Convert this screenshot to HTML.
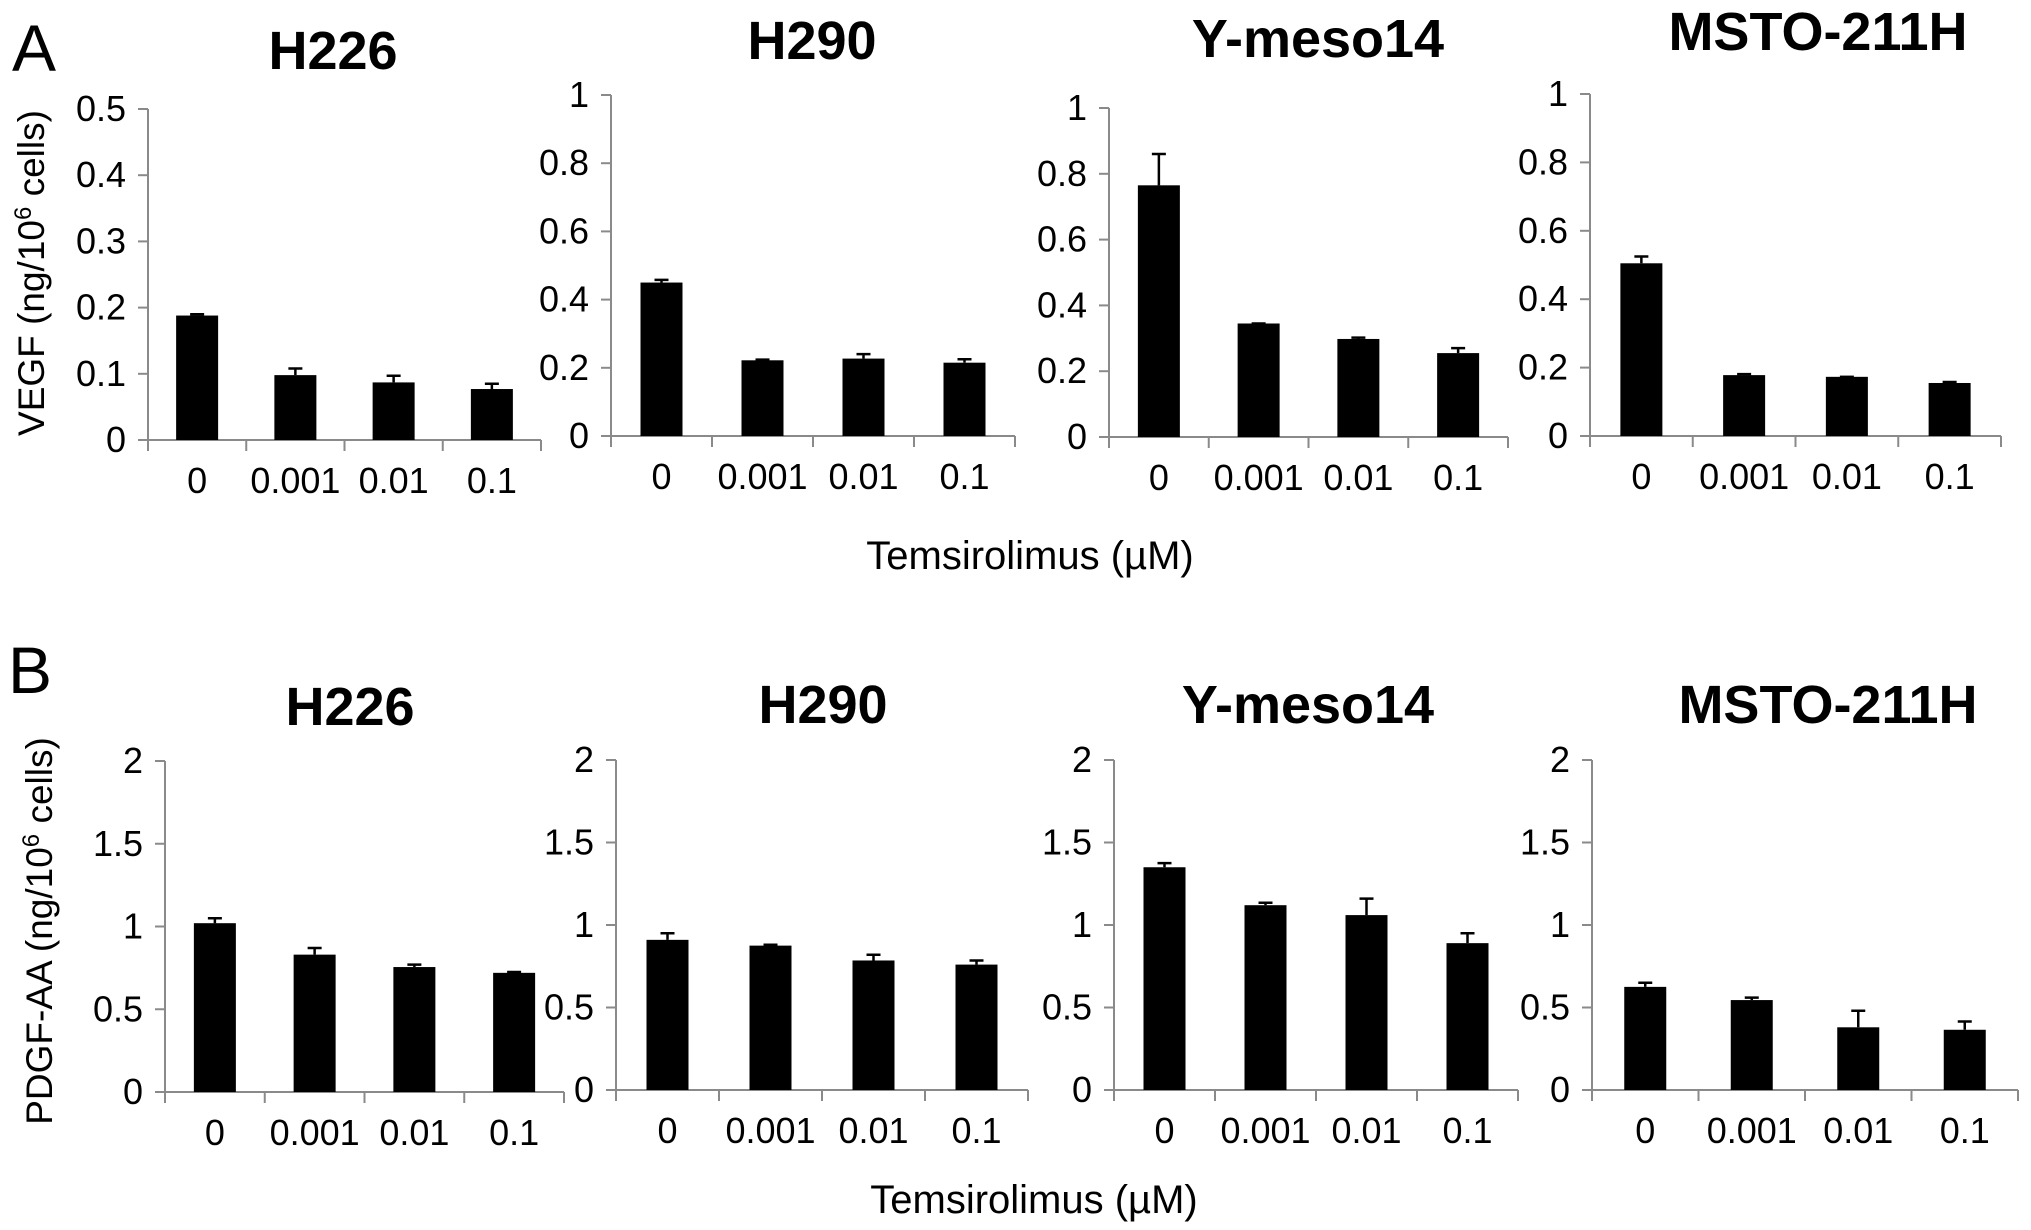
<!DOCTYPE html>
<html><head><meta charset="utf-8">
<style>
html,body{margin:0;padding:0;background:#fff;}
svg{display:block;font-family:"Liberation Sans",Arial,sans-serif;}
</style></head>
<body>
<svg id="fig" width="2031" height="1230" viewBox="0 0 2031 1230" xmlns="http://www.w3.org/2000/svg">
<rect width="2031" height="1230" fill="#fff"/>
<text x="12" y="71" font-size="66">A</text>
<text x="8" y="693" font-size="66">B</text>
<text transform="translate(44,273) rotate(-90)" text-anchor="middle" font-size="37">VEGF (ng/10<tspan dy="-13" font-size="24">6</tspan><tspan dy="13"> cells)</tspan></text>
<text transform="translate(52,931) rotate(-90)" text-anchor="middle" font-size="37">PDGF-AA (ng/10<tspan dy="-13" font-size="24">6</tspan><tspan dy="13"> cells)</tspan></text>
<text x="1030" y="569" text-anchor="middle" font-size="40">Temsirolimus (µM)</text>
<text x="1034" y="1213" text-anchor="middle" font-size="40">Temsirolimus (µM)</text>
<g id="charts"></g>
</svg>
<script>
// ---- data ----
const categories = ["0", "0.001", "0.01", "0.1"];
const cellLines = ["H226", "H290", "Y-meso14", "MSTO-211H"];
const vegfH226 = [0.188, 0.098, 0.087, 0.077];
const vegfH226Err = [0.002, 0.010, 0.010, 0.008];
const vegfH290 = [0.450, 0.222, 0.227, 0.215];
const vegfH290Err = [0.008, 0.002, 0.013, 0.010];
const vegfYmeso = [0.765, 0.345, 0.298, 0.255];
const vegfYmesoErr = [0.095, 0.000, 0.004, 0.015];
const vegfMsto = [0.505, 0.178, 0.173, 0.155];
const vegfMstoErr = [0.020, 0.003, 0.000, 0.003];
const pdgfH226 = [1.02, 0.83, 0.755, 0.72];
const pdgfH226Err = [0.03, 0.04, 0.015, 0.005];
const pdgfH290 = [0.91, 0.875, 0.785, 0.76];
const pdgfH290Err = [0.04, 0.005, 0.035, 0.025];
const pdgfYmeso = [1.35, 1.12, 1.06, 0.89];
const pdgfYmesoErr = [0.025, 0.015, 0.10, 0.06];
const pdgfMsto = [0.625, 0.545, 0.38, 0.365];
const pdgfMstoErr = [0.025, 0.015, 0.10, 0.05];
const ticksVegfH226 = [0, 0.1, 0.2, 0.3, 0.4, 0.5];
const ticksVegf = [0, 0.2, 0.4, 0.6, 0.8, 1];
const ticksPdgf = [0, 0.5, 1, 1.5, 2];

// ---- layout (pixels) ----
const layout = [
 {key:"vegf-h226", title:0, v:vegfH226, e:vegfH226Err, t:ticksVegfH226, x0:148, x1:541, y0:440, y1:109, tx:333, ty:69},
 {key:"vegf-h290", title:1, v:vegfH290, e:vegfH290Err, t:ticksVegf, x0:611, x1:1015, y0:436, y1:95, tx:812, ty:59},
 {key:"vegf-ymeso14", title:2, v:vegfYmeso, e:vegfYmesoErr, t:ticksVegf, x0:1109, x1:1508, y0:437, y1:108, tx:1318, ty:57},
 {key:"vegf-msto211h", title:3, v:vegfMsto, e:vegfMstoErr, t:ticksVegf, x0:1590, x1:2001, y0:436, y1:94, tx:1818, ty:50},
 {key:"pdgf-h226", title:0, v:pdgfH226, e:pdgfH226Err, t:ticksPdgf, x0:165, x1:564, y0:1092, y1:761, tx:350, ty:725},
 {key:"pdgf-h290", title:1, v:pdgfH290, e:pdgfH290Err, t:ticksPdgf, x0:616, x1:1028, y0:1090, y1:760, tx:823, ty:723},
 {key:"pdgf-ymeso14", title:2, v:pdgfYmeso, e:pdgfYmesoErr, t:ticksPdgf, x0:1114, x1:1518, y0:1090, y1:760, tx:1308, ty:723},
 {key:"pdgf-msto211h", title:3, v:pdgfMsto, e:pdgfMstoErr, t:ticksPdgf, x0:1592, x1:2018, y0:1090, y1:760, tx:1828, ty:723}
];

const NS = "http://www.w3.org/2000/svg";
const root = document.getElementById("charts");
function mk(tag, attrs, parent){
  const el = document.createElementNS(NS, tag);
  for (const k in attrs) el.setAttribute(k, attrs[k]);
  parent.appendChild(el);
  return el;
}
const AX = "#8a8a8a";
layout.forEach(p => {
  const g = mk("g", {}, root);
  
  
  const tMax = p.t[p.t.length - 1];
  const yS = v => p.y0 - (v / tMax) * (p.y0 - p.y1);
  const bw = (p.x1 - p.x0) / categories.length;
  const xC = i => p.x0 + bw * (i + 0.5);

  const title = mk("text", {x:p.tx, y:p.ty, "text-anchor":"middle", "font-size":54, "font-weight":"bold"}, g);
  title.textContent = cellLines[p.title];
  
  

  const ya = mk("line", {x1:p.x0, y1:p.y1, x2:p.x0, y2:p.y0, stroke:AX, "stroke-width":2}, g);
  
  
  p.t.forEach(tv => {
    const y = yS(tv);
    mk("line", {x1:p.x0 - 10, y1:y, x2:p.x0, y2:y, stroke:AX, "stroke-width":2}, g);
    const lb = mk("text", {x:p.x0 - 22, y:y + 12, "text-anchor":"end", "font-size":36}, g);
    lb.textContent = String(tv);
    
    
  });
  const xa = mk("line", {x1:p.x0 - 10, y1:p.y0, x2:p.x1, y2:p.y0, stroke:AX, "stroke-width":2}, g);
  
  
  for (let i = 0; i <= categories.length; i++) {
    const x = p.x0 + bw * i;
    mk("line", {x1:x, y1:p.y0, x2:x, y2:p.y0 + 11, stroke:AX, "stroke-width":2}, g);
  }
  categories.forEach((c, i) => {
    const lb = mk("text", {x:xC(i), y:p.y0 + 53, "text-anchor":"middle", "font-size":36}, g);
    lb.textContent = c;
    
    
  });
  p.v.forEach((v, i) => {
    const w = 42;
    const top = yS(v);
    const bar = mk("rect", {x:xC(i) - w/2, y:top, width:w, height:p.y0 - top, fill:"#000"}, g);
    
    
    const et = yS(v + p.e[i]);
    const eb = mk("path", {d:`M${xC(i)},${top} V${et} M${xC(i)-7},${et} H${xC(i)+7}`, stroke:"#000", "stroke-width":2.5, fill:"none"}, g);
    
    
  });
});
</script>
</body></html>
